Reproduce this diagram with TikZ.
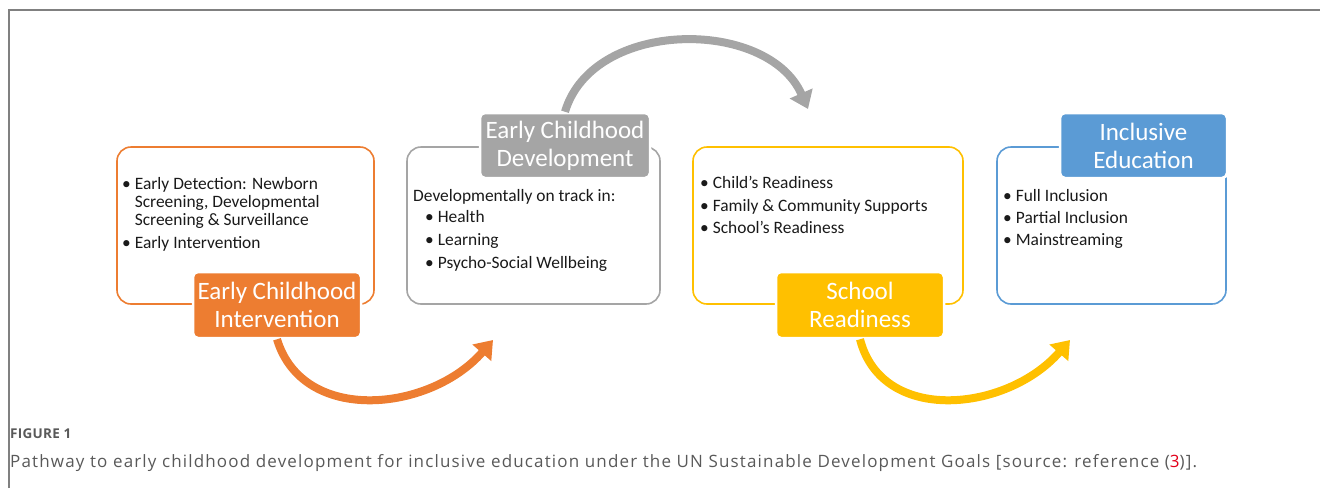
\documentclass[tikz,border=0pt]{standalone}
\usepackage{fontspec}
\setmainfont{Carlito}
\newfontfamily\capfont[LetterSpace=6.8]{Open Sans}
\newfontfamily\figfont[LetterSpace=2]{Open Sans}
\usetikzlibrary{arrows.meta}
\definecolor{corange}{HTML}{ED7D31}
\definecolor{cgray}{HTML}{A5A5A5}
\definecolor{cyellow}{HTML}{FFC000}
\definecolor{cblue}{HTML}{5B9BD5}
\definecolor{framegray}{HTML}{808080}
\definecolor{capgray}{HTML}{595959}
\definecolor{capred}{HTML}{E2001A}
\definecolor{bodytext}{HTML}{1A1A1A}
\tikzset{
  outbox/.style={line width=1.6pt, rounded corners=14pt, fill=white, inner sep=0pt},
  labbox/.style={rounded corners=5pt, draw=white, line width=2.5pt, text=white, align=center,
    inner sep=0pt, font=\fontsize{25}{28}\selectfont},
  body/.style={anchor=base west, inner sep=0pt, font=\fontsize{17.4}{18}\selectfont, text=bodytext},
  flowarrow/.style={line width=8pt, -{Triangle[length=17pt,width=24pt]}},
}
\newcommand{\bul}{•\hspace{4pt}}
\newcommand{\nobul}{\phantom{•}\hspace{4pt}}
\begin{document}
\begin{tikzpicture}[x=1pt,y=-1pt]
\useasboundingbox (0,0) rectangle (1320,488);
% frame
\draw[framegray, line width=1.5pt] (9,488) -- (9,10) -- (1320,10);

% outline boxes
\node[outbox, draw=corange, minimum width=257pt, minimum height=157pt] (b1) at (245.5,225.5) {};
\node[outbox, draw=cgray,   minimum width=253pt, minimum height=157pt] (b2) at (533.5,225.5) {};
\node[outbox, draw=cyellow, minimum width=270pt, minimum height=157pt] (b3) at (828,225.5) {};
\node[outbox, draw=cblue,   minimum width=229pt, minimum height=157pt] (b4) at (1111.5,225.5) {};

% labels
\node[labbox, fill=corange, minimum width=168pt, minimum height=66pt] (l1) at (277,305) {Early Childhood\\Intervention};
\node[labbox, fill=cgray,   minimum width=170pt, minimum height=65pt] (l2) at (565,145.5) {Early Childhood\\Development};
\node[labbox, fill=cyellow, minimum width=168pt, minimum height=66pt] (l3) at (860,305) {School\\Readiness};
\node[labbox, fill=cblue,   minimum width=167pt, minimum height=65pt] (l4) at (1143.5,145.5) {Inclusive\\Education};

% box 1 text
\node[body] (t1a) at (122,189) {\bul Early Detection: Newborn};
\node[body] (t1b) at (122,207) {\nobul Screening, Developmental};
\node[body] (t1c) at (122,225) {\nobul Screening \& Surveillance};
\node[body] (t1d) at (122,248) {\bul Early Intervention};

% box 2 text
\node[body] (t2a) at (413,201) {Developmentally on track in:};
\node[body] (t2b) at (425,222) {\bul Health};
\node[body] (t2c) at (425,245) {\bul Learning};
\node[body] (t2d) at (425,268) {\bul Psycho-Social Wellbeing};

% box 3 text
\node[body] (t3a) at (700,188) {\bul Child’s Readiness};
\node[body] (t3b) at (700,211) {\bul Family \& Community Supports};
\node[body] (t3c) at (700,233) {\bul School’s Readiness};

% box 4 text
\node[body] (t4a) at (1003,201) {\bul Full Inclusion};
\node[body] (t4b) at (1003,223) {\bul Partial Inclusion};
\node[body] (t4c) at (1003,245) {\bul Mainstreaming};

% arrow end points
\coordinate (e1) at (493,340);
\coordinate (e2) at (808,109);
\coordinate (e3) at (1070,340);

% arrows
\draw[flowarrow, corange] (l1.south) .. controls (303,425) and (430,412) .. (e1);
\draw[flowarrow, cgray] (l2.north) .. controls (593,18) and (768,18) .. (e2);
\draw[flowarrow, cyellow] (l3.south) .. controls (882,425) and (1007,412) .. (e3);

% caption
\node[anchor=base west, inner sep=0pt, text=capgray, font=\figfont\bfseries\fontsize{13.5}{15}\selectfont] (fig) at (10,438) {FIGURE 1};
\node[anchor=base west, inner sep=0pt, text=capgray, font=\capfont\fontsize{17}{19}\selectfont] (cap) at (10,467)
  {Pathway to early childhood development for inclusive education under the UN Sustainable Development Goals [source: reference (\textcolor{capred}{3})].};
\end{tikzpicture}
\end{document}
